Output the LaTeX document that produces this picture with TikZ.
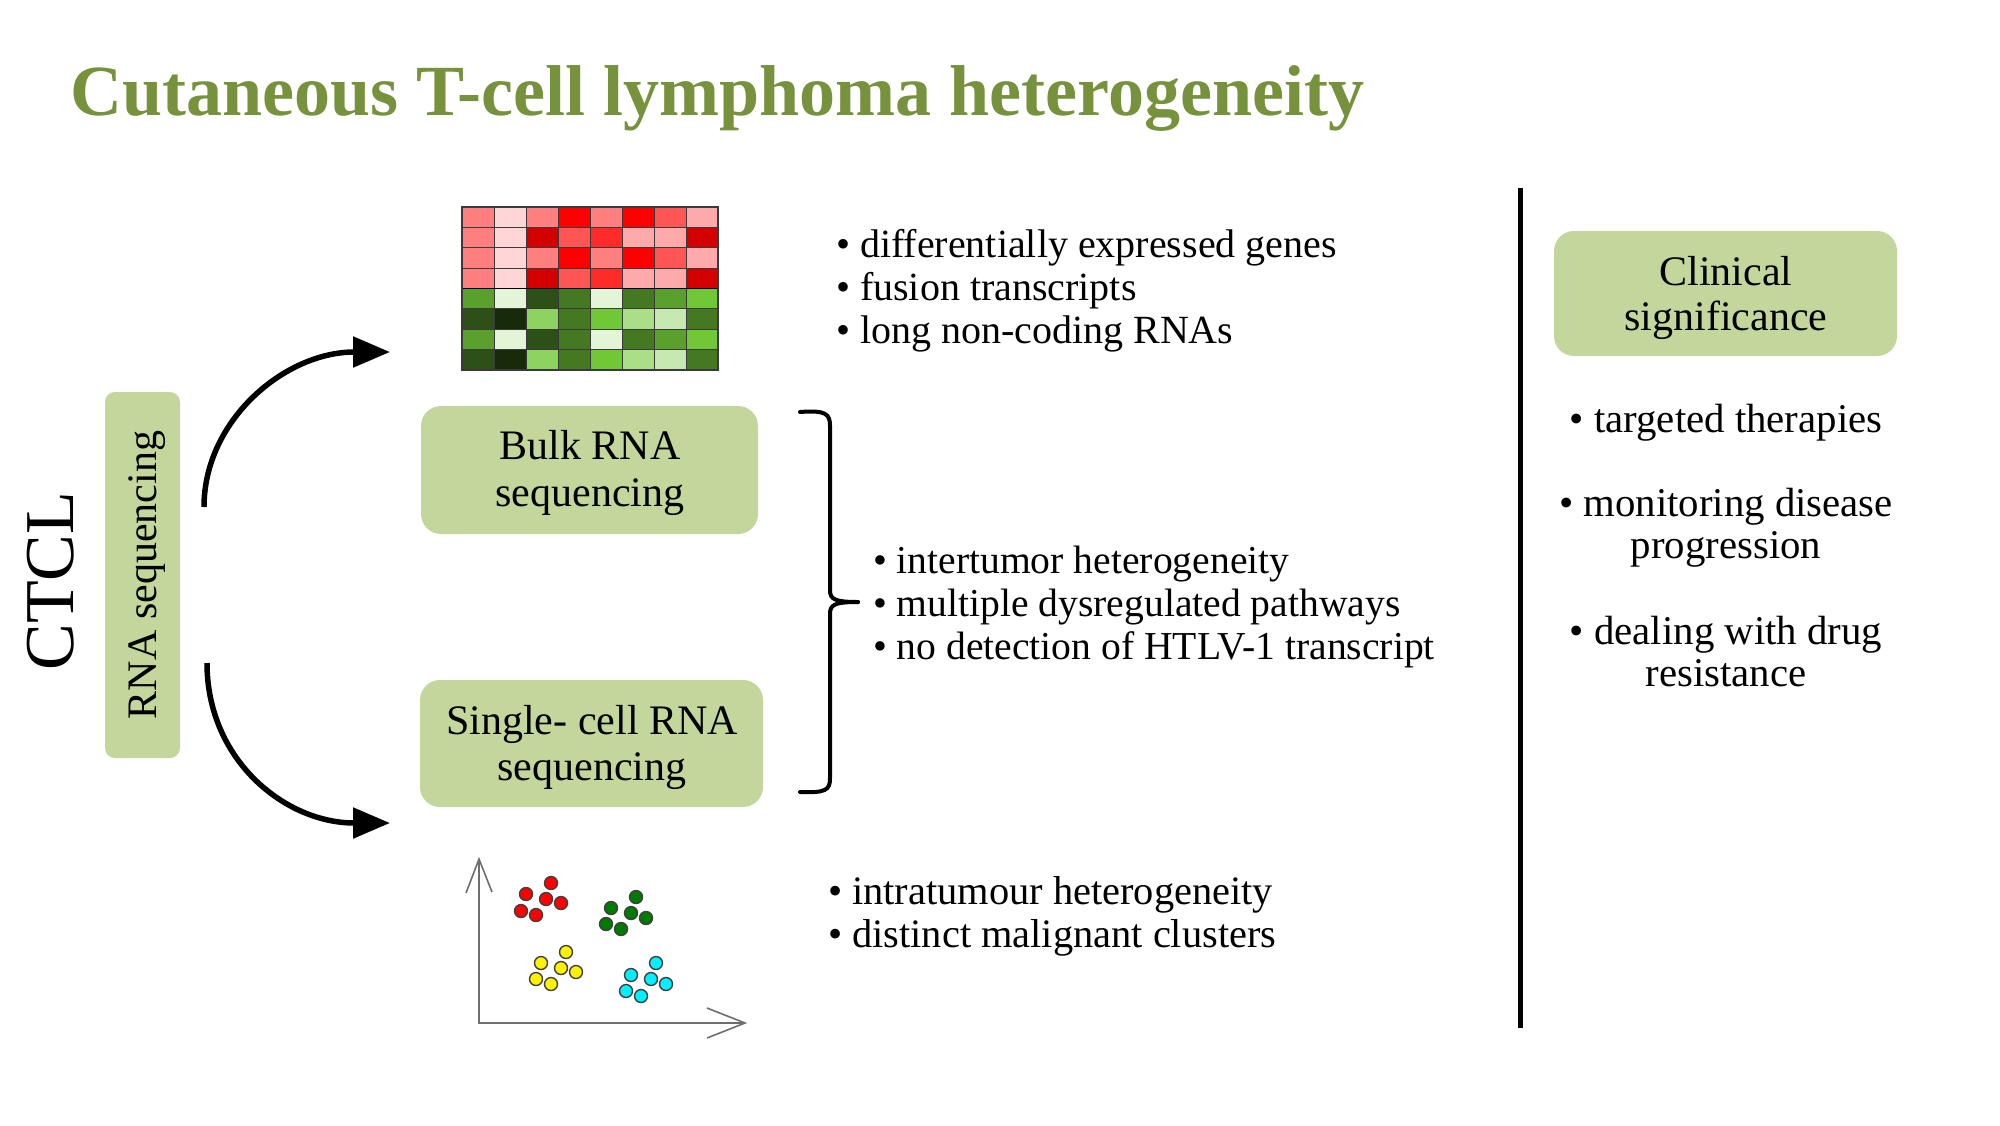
\documentclass[tikz,border=0pt]{standalone}
\usepackage{fontspec}
\setmainfont{Liberation Serif}
\usetikzlibrary{arrows.meta}
\definecolor{titlegreen}{HTML}{76923C}
\definecolor{boxgreen}{HTML}{C3D69B}
\definecolor{rA}{HTML}{FF7F7F}
\definecolor{rB}{HTML}{FFD5D5}
\definecolor{rC}{HTML}{FF0000}
\definecolor{rD}{HTML}{FF5555}
\definecolor{rE}{HTML}{FFAAAA}
\definecolor{rF}{HTML}{D40000}
\definecolor{rG}{HTML}{FF2A2A}
\definecolor{gA}{HTML}{5AA02C}
\definecolor{gB}{HTML}{E3F4D7}
\definecolor{gC}{HTML}{2D5016}
\definecolor{gD}{HTML}{447821}
\definecolor{gE}{HTML}{71C837}
\definecolor{gF}{HTML}{172B0B}
\definecolor{gG}{HTML}{8DD35F}
\definecolor{gH}{HTML}{AADE87}
\definecolor{gI}{HTML}{C6E9AF}
\definecolor{gridc}{HTML}{3A3A3A}
\definecolor{axisc}{HTML}{6E6E6E}
\definecolor{dotred}{HTML}{FF0000}
\definecolor{dotgreen}{HTML}{007A00}
\definecolor{dotyellow}{HTML}{FFF200}
\definecolor{dotcyan}{HTML}{00F0FF}
\tikzset{
  box/.style={fill=boxgreen, draw=none, rounded corners=10pt, inner sep=0pt},
  boxtext/.style={inner sep=0pt, outer sep=0pt, anchor=base, font=\fontsize{21}{25}\selectfont},
  bulA/.style={inner sep=0pt, outer sep=0pt, anchor=base west, font=\fontsize{20}{24}\selectfont},
  bulM/.style={inner sep=0pt, outer sep=0pt, anchor=base west, font=\fontsize{19.8}{24}\selectfont},
  bulB/.style={inner sep=0pt, outer sep=0pt, anchor=base west, font=\fontsize{20.2}{24}\selectfont},
  bulR/.style={inner sep=0pt, outer sep=0pt, anchor=base, font=\fontsize{20.4}{24}\selectfont},
  bigarrow/.style={line width=2.75pt, -{Triangle[length=18.5pt,width=15pt]}},
  dot/.style={draw=black!75, line width=0.7pt},
  axis/.style={draw=axisc, line width=0.8pt},
}
\begin{document}
\begin{tikzpicture}[x=0.5pt,y=-0.5pt]
\useasboundingbox (0,0) rectangle (2000,1125);
\fill[white] (0,0) rectangle (2000,1125);

% title
\node[inner sep=0pt, anchor=base west, text=titlegreen, font=\fontsize{36}{44}\selectfont\bfseries] (title) at (70,115) {Cutaneous T-cell lymphoma heterogeneity};

% CTCL
\node[inner sep=0pt, anchor=base, rotate=90, font=\fontsize{35}{42}\selectfont] (ctcl) at (73,581) {CTCL};

% RNA sequencing box
\node[box, rounded corners=5pt, minimum width=37.5pt, minimum height=183pt] (rnabox) at (142.5,575) {};
\node[inner sep=0pt, anchor=base, rotate=90, font=\fontsize{21}{25}\selectfont] (rnatext) at (156,575) {RNA sequencing};

% method boxes
\node[box, minimum width=168.5pt, minimum height=64pt] (bulk) at (589.5,470) {};
\node[boxtext] (bulk1) at (590,459) {Bulk RNA};
\node[boxtext] (bulk2) at (590,506) {sequencing};
\node[box, minimum width=171.5pt, minimum height=63.5pt] (single) at (591.5,743.5) {};
\node[boxtext] (single1) at (592,734) {Single- cell RNA};
\node[boxtext] (single2) at (592,780) {sequencing};

% arrows
\coordinate (aup) at (204,507);
\coordinate (heatin) at (390,352);
\coordinate (adown) at (207,663);
\coordinate (scatin) at (390,823);
\draw[bigarrow] (aup) .. controls (204,420) and (285,352) .. (heatin);
\draw[bigarrow] (adown) .. controls (207,760) and (285,823) .. (scatin);

% heatmap
\foreach \row [count=\j from 0] in {{rA,rB,rA,rC,rA,rC,rD,rE},{rA,rB,rF,rD,rG,rE,rE,rF},{rA,rB,rA,rC,rA,rC,rD,rE},{rA,rB,rF,rD,rG,rE,rE,rF},{gA,gB,gC,gD,gB,gD,gA,gE},{gC,gF,gG,gD,gE,gH,gI,gD},{gA,gB,gC,gD,gB,gD,gA,gE},{gC,gF,gG,gD,gE,gH,gI,gD}}{
  \foreach \c [count=\i from 0] in \row {
    \fill[\c] (462+\i*32,207+\j*20.375) rectangle (494+\i*32,227.375+\j*20.375);
  }
}
\foreach \i in {1,...,7} {\draw[gridc, line width=0.5pt] (462+\i*32,207) -- (462+\i*32,370);}
\foreach \j in {1,2,3,5,6,7} {\draw[gridc, line width=0.5pt] (462,207+\j*20.375) -- (718,207+\j*20.375);}
\draw[black, line width=0.8pt] (462,288.5) -- (718,288.5);
\draw[gridc, line width=0.8pt] (462,207) rectangle (718,370);
\coordinate (heatmap) at (590,288);

% scatter plot
\coordinate (origin) at (479,1023);
\coordinate (ytip) at (479,859);
\coordinate (xtip) at (745,1023);
\draw[axis] (ytip) -- (origin) -- (xtip);
\draw[axis] (466,893) -- (ytip) -- (492,892);
\draw[axis] (707,1008) -- (xtip) -- (707,1038);
\foreach \p in {(551,883),(526,894),(546,899),(561,903),(521,911),(536,915)} {\draw[dot, fill=dotred] \p circle (6.5);}
\foreach \p in {(636,897),(611,908),(631,913),(646,918),(606,924),(621,929)} {\draw[dot, fill=dotgreen] \p circle (6.5);}
\foreach \p in {(566,952),(541,963),(561,968),(576,972),(536,979),(551,984)} {\draw[dot, fill=dotyellow] \p circle (6.5);}
\foreach \p in {(656,963),(631,975),(651,979),(666,984),(626,991),(641,996)} {\draw[dot, fill=dotcyan] \p circle (6.5);}

% brace
\coordinate (bracetip) at (858,602);
\draw[line width=2pt, line cap=round] (800,412) .. controls (826,410) and (830,414) .. (830,426) -- (830,590) .. controls (830,599) and (834,602) .. (bracetip);
\draw[line width=2pt, line cap=round] (bracetip) .. controls (834,602) and (830,605) .. (830,614) -- (830,778) .. controls (830,790) and (826,793) .. (800,792);

% top bullets
\node[bulA] (t1) at (836,257) {\textbullet\ differentially expressed genes};
\node[bulA] (t2) at (836,300) {\textbullet\ fusion transcripts};
\node[bulA] (t3) at (836,343) {\textbullet\ long non-coding RNAs};

% middle bullets
\node[bulM] (m1) at (873,573) {\textbullet\ intertumor heterogeneity};
\node[bulM] (m2) at (873,616) {\textbullet\ multiple dysregulated pathways};
\node[bulM] (m3) at (873,659) {\textbullet\ no detection of HTLV-1 transcript};

% bottom bullets
\node[bulB] (b1) at (828,904) {\textbullet\ intratumour heterogeneity};
\node[bulB] (b2) at (828,947) {\textbullet\ distinct malignant clusters};

% separator
\coordinate (sepT) at (1520,188);
\coordinate (sepB) at (1520,1028);
\draw[line width=2.5pt] (sepT) -- (sepB);

% clinical
\node[box, minimum width=171.5pt, minimum height=62.5pt] (clin) at (1725.5,293.5) {};
\node[boxtext] (clin1) at (1726,285) {Clinical};
\node[boxtext] (clin2) at (1726,330) {significance};
\node[bulR] (r1) at (1726,432) {\textbullet\ targeted therapies};
\node[bulR] (r2) at (1726,516) {\textbullet\ monitoring disease};
\node[bulR] (r3) at (1726,558) {progression};
\node[bulR] (r4) at (1726,644) {\textbullet\ dealing with drug};
\node[bulR] (r5) at (1726,686) {resistance};
\end{tikzpicture}
\end{document}
